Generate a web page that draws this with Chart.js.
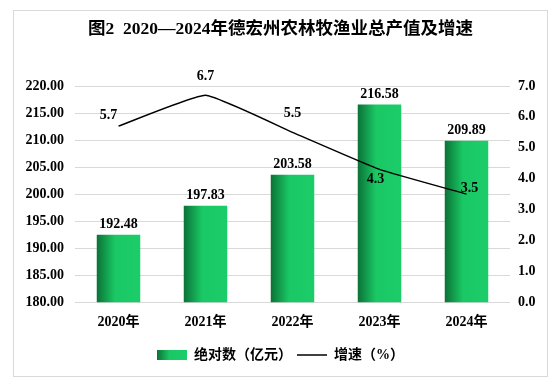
<!DOCTYPE html>
<html>
<head>
<meta charset="utf-8">
<script src="https://cdn.jsdelivr.net/npm/chart.js@4/dist/chart.umd.min.js"></script>
<style>
  body { margin: 0; background: #fff; }
  #box { position: absolute; left: 13px; top: 10px; width: 533px; height: 365px; border: 1px solid #d9d9d9; }
</style>
</head>
<body>
<div id="box"><canvas id="chart" width="533" height="365"></canvas></div>
<script>
const years = ['2020年', '2021年', '2022年', '2023年', '2024年'];
const totals = [192.48, 197.83, 203.58, 216.58, 209.89];   // 亿元
const growth = [5.7, 6.7, 5.5, 4.3, 3.5];                  // %

// where each growth label sits relative to its point
const growthLabelShift = [[-10, -11], [0, -19], [0, -19], [-4, 10], [3, -6]];

const FONT = "'Liberation Serif', 'Noto Sans CJK SC', serif";

function barGradient(ctx, x0, x1) {
    const g = ctx.createLinearGradient(x0, 0, x1, 0);
    g.addColorStop(0, '#0b7237');
    g.addColorStop(0.42, '#1ac864');
    g.addColorStop(1, '#1bcd69');
    return g;
}

// small swatch for the legend
const swatch = document.createElement('canvas');
swatch.width = 30; swatch.height = 10;
(function() {
    const c = swatch.getContext('2d');
    c.fillStyle = barGradient(c, 0, 30);
    c.fillRect(0, 0, 30, 10);
})();

const valueLabels = {
    id: 'valueLabels',
    afterDatasetsDraw(chart) {
        const ctx = chart.ctx;
        ctx.save();
        ctx.fillStyle = '#000';
        ctx.font = 'bold 14px ' + FONT;
        ctx.textAlign = 'center';
        ctx.textBaseline = 'middle';
        chart.getDatasetMeta(0).data.forEach((el, i) => {
            ctx.fillText(totals[i].toFixed(2), el.x, el.y - 10);
        });
        chart.getDatasetMeta(1).data.forEach((el, i) => {
            const s = growthLabelShift[i];
            ctx.fillText(growth[i].toFixed(1), el.x + s[0], el.y + s[1]);
        });
        ctx.restore();
    }
};

document.addEventListener('DOMContentLoaded', function() {
    const ctx = document.getElementById('chart').getContext('2d');
    new Chart(ctx, {
        data: {
            labels: years,
            datasets: [{
                type: 'bar',
                label: '绝对数（亿元）',
                data: totals,
                yAxisID: 'y',
                categoryPercentage: 1,
                barPercentage: 0.5,
                backgroundColor: function(c) {
                    const ch = c.chart;
                    if (!ch.chartArea) return '#1bcd69';
                    const x = ch.scales.x.getPixelForValue(c.dataIndex);
                    const half = (ch.chartArea.width / years.length) * 0.25;
                    return barGradient(ch.ctx, x - half, x + half);
                },
                order: 2
            }, {
                type: 'line',
                label: '增速（%）',
                data: growth,
                yAxisID: 'y1',
                borderColor: '#000',
                borderWidth: 1.5,
                pointRadius: 0,
                tension: 0.12,
                order: 1
            }]
        },
        options: {
            responsive: false,
            animation: false,
            layout: { padding: { left: 0, right: 0, top: 0, bottom: 4 } },
            plugins: {
                title: {
                    display: true,
                    text: '图2  2020—2024年德宏州农林牧渔业总产值及增速',
                    color: '#000',
                    font: { family: FONT, size: 17.5, weight: 'bold' },
                    padding: { top: 8, bottom: 46 }
                },
                legend: {
                    position: 'bottom',
                    labels: {
                        color: '#000',
                        font: { family: FONT, size: 14, weight: 'bold' },
                        usePointStyle: true,
                        pointStyleWidth: 30,
                        padding: 5,
                        generateLabels: function(chart) {
                            return [{
                                text: '绝对数（亿元）', pointStyle: swatch, fillStyle: '#1bcd69',
                                strokeStyle: 'transparent', lineWidth: 0, datasetIndex: 0
                            }, {
                                text: '增速（%）', pointStyle: 'line', fillStyle: '#000',
                                strokeStyle: '#000', lineWidth: 1.5, datasetIndex: 1
                            }];
                        }
                    }
                },
                tooltip: { enabled: false }
            },
            scales: {
                x: {
                    grid: { display: false, drawTicks: false },
                    border: { display: false },
                    ticks: { color: '#000', padding: 12, font: { family: FONT, size: 14, weight: 'bold' } }
                },
                y: {
                    position: 'left',
                    min: 180, max: 220,
                    ticks: {
                        stepSize: 5, padding: 11, color: '#000',
                        font: { family: FONT, size: 14, weight: 'bold' },
                        callback: v => v.toFixed(2)
                    },
                    grid: { color: '#d9d9d9', drawTicks: false },
                    border: { display: false },
                    afterFit: s => { s.width = 61; }
                },
                y1: {
                    position: 'right',
                    min: 0, max: 7,
                    ticks: {
                        stepSize: 1, padding: 8, color: '#000',
                        font: { family: FONT, size: 14, weight: 'bold' },
                        callback: v => v.toFixed(1)
                    },
                    grid: { display: false, drawTicks: false },
                    border: { display: false },
                    afterFit: s => { s.width = 37; }
                }
            }
        },
        plugins: [valueLabels]
    });
});
</script>
</body>
</html>
